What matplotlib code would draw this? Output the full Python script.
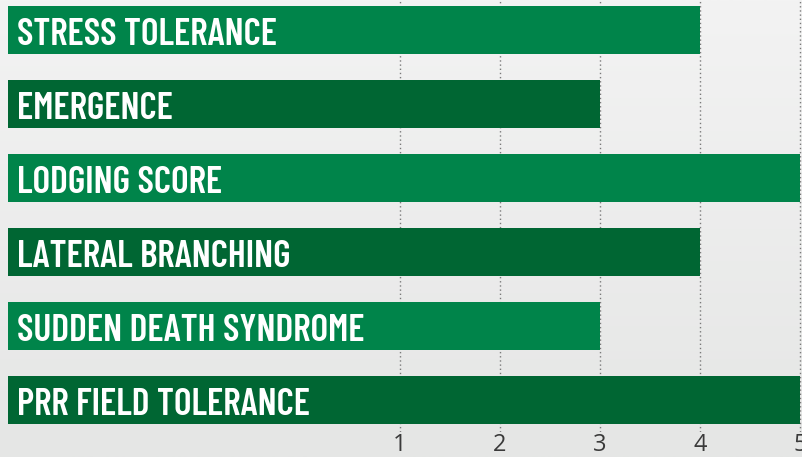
import numpy as np
import matplotlib
matplotlib.use('Agg')
from matplotlib import pyplot as plt
from matplotlib import transforms

# trait ratings, top to bottom
traits = ['STRESS TOLERANCE', 'EMERGENCE', 'LODGING SCORE',
          'LATERAL BRANCHING', 'SUDDEN DEATH SYNDROME', 'PRR FIELD TOLERANCE']
scores = [4, 3, 5, 4, 3, 5]
ticks = [1, 2, 3, 4, 5]

light_green = '#00844a'
dark_green = '#006633'

W, H = 802, 457
fig = plt.figure(figsize=(W / 100, H / 100), dpi=100)

# faint background wash
bg = fig.add_axes([0, 0, 1, 1])
grad = np.linspace(0, 1, 256).reshape(-1, 1)
bg.imshow(grad, aspect='auto', extent=[0, 1, 0, 1],
          cmap=matplotlib.colors.LinearSegmentedColormap.from_list('bg', ['#e5e6e5', '#f3f3f3']),
          origin='lower')
bg.axis('off')

ax = fig.add_axes([8 / W, (H - 432) / H, 794 / W, 432 / H])
ax.patch.set_alpha(0)
xmin, xmax = -2.92, 5.02
ax.set_xlim(xmin, xmax)
ax.set_ylim(5.43, -0.405)

y = np.arange(len(traits))
colors = [light_green if i % 2 == 0 else dark_green for i in range(len(traits))]
ax.barh(y, np.array(scores) - xmin, left=xmin, height=0.65, color=colors, zorder=2)

# labels sit on a baseline a bit below the bar centre so the caps look centred
lbl_tr = transforms.blended_transform_factory(ax.transAxes, ax.transData)
for i, name in enumerate(traits):
    ax.text(9 / 794, i + 0.2, name, transform=lbl_tr,
            color='white', fontsize=27, fontweight='semibold', va='baseline', ha='left',
            family=['Barlow Condensed', 'DejaVu Sans'], zorder=3)

ax.set_xticks(ticks)
ax.set_xticklabels([str(t) for t in ticks])
ax.set_yticks([])
ax.tick_params(axis='x', length=0, pad=1, labelsize=17, labelcolor='#3a3a3a')
for lab in ax.get_xticklabels():
    lab.set_family(['Open Sans', 'DejaVu Sans'])
ax.grid(axis='x', color='#7a7a7a', linestyle=(0, (1, 2)), linewidth=1, zorder=1)
for s in ax.spines.values():
    s.set_visible(False)

fig.savefig('out.png', dpi=100)
